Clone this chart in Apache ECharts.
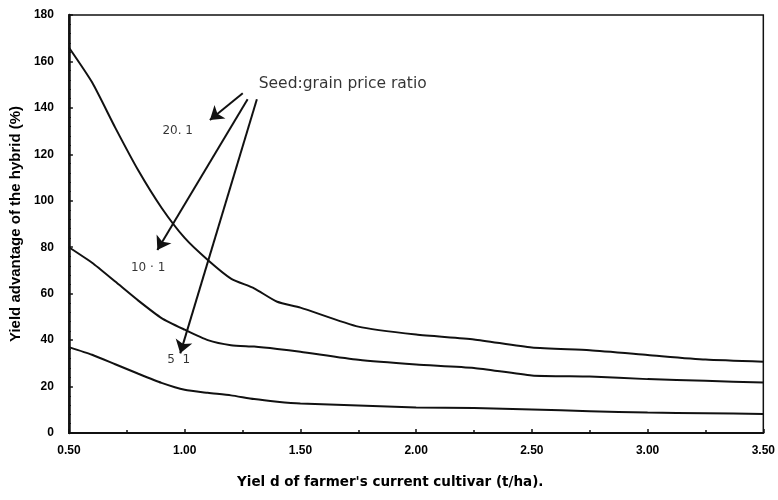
<!DOCTYPE html>
<html><head><meta charset="utf-8">
<script src="https://cdn.jsdelivr.net/npm/echarts@6/dist/echarts.min.js"></script>
<style>html,body{margin:0;padding:0;background:#fff}#c{width:778px;height:500px}</style>
</head><body><div id="c"></div>
<script>
var xValues = [0.5, 0.6, 0.7, 0.8, 0.9, 1.0, 1.1, 1.2, 1.3, 1.4, 1.5, 1.75, 2.0, 2.25, 2.5, 2.75, 3.0, 3.25, 3.5];
var ratio20 = [166, 151, 131.5, 113, 97, 84, 74.5, 66.5, 62.3, 56.5, 54, 45.8, 42.4, 40.3, 36.8, 35.6, 33.6, 31.6, 30.7];
var ratio10 = [80, 73.3, 65.2, 57, 49.5, 44.5, 40, 37.8, 37.2, 36.2, 35, 31.5, 29.5, 28, 24.8, 24.3, 23.2, 22.5, 21.7];
var ratio5  = [37, 33.7, 29.6, 25.5, 21.6, 18.6, 17.3, 16.2, 14.6, 13.5, 12.7, 11.8, 11, 10.8, 10.1, 9.4, 8.8, 8.5, 8.2];
var yTicks = {min: 0, max: 180, interval: 20};
var xTicks = {min: 0.5, max: 3.5, interval: 0.5};
var legendTitle = 'Seed:grain price ratio';
var curveLabels = ['20. 1', '10 \u00b7 1', '5  1'];
var titlePos = [1.32, 150.5];
var curveLabelPos = [[0.904, 130], [0.768, 71], [0.925, 31.5]];
var arrows = [
  [[1.251, 146.3], [1.109, 134.8]],
  [[1.272, 143.7], [0.882, 78.8]],
  [[1.312, 143.7], [0.981, 34.3]]
];

function pairs(ys) { return xValues.map(function (x, i) { return [x, ys[i]]; }); }

var chart = echarts.init(document.getElementById('c'));
var lineStyle = {color: '#111', width: 2};
var fontFam = '"Liberation Sans", Arial, sans-serif';
var option = {
  animation: false,
  backgroundColor: '#fff',
  grid: {left: 65, right: 7, top: 15, bottom: 67, show: true, borderColor: '#111', borderWidth: 1.5, backgroundColor: 'transparent'},
  xAxis: {
    type: 'value', min: xTicks.min, max: xTicks.max, interval: xTicks.interval,
    axisLine: {lineStyle: {color: '#111', width: 2}},
    axisTick: {inside: true, length: 4, lineStyle: {color: '#111', width: 1.5}},
    minorTick: {show: true, splitNumber: 2, length: 3, lineStyle: {color: '#111', width: 1.5}},
    splitLine: {show: false},
    axisLabel: {margin: 12, color: '#000', fontFamily: fontFam, fontWeight: 'bold', fontSize: 12,
      formatter: function (v) { return v.toFixed(2); }}
  },
  yAxis: {
    type: 'value', min: yTicks.min, max: yTicks.max, interval: yTicks.interval,
    name: 'Yield advantage of the hybrid (%)', nameLocation: 'middle', nameGap: 45,
    nameTextStyle: {color: '#000', fontFamily: fontFam, fontWeight: 'bold', fontSize: 15},
    axisLine: {lineStyle: {color: '#111', width: 2.5}},
    axisTick: {inside: true, length: 4, lineStyle: {color: '#111', width: 1.5}},
    minorTick: {show: true, splitNumber: 5, length: 2, lineStyle: {color: '#111', width: 1}},
    splitLine: {show: false},
    axisLabel: {margin: 15, color: '#000', fontFamily: fontFam, fontWeight: 'bold', fontSize: 12}
  },
  series: [
    {name: '20:1', type: 'line', data: pairs(ratio20), symbol: 'none', smooth: 0.2, lineStyle: lineStyle},
    {name: '10:1', type: 'line', data: pairs(ratio10), symbol: 'none', smooth: 0.2, lineStyle: lineStyle},
    {name: '5:1', type: 'line', data: pairs(ratio5), symbol: 'none', smooth: 0.2, lineStyle: lineStyle,
      markLine: {
        silent: true, symbol: ['none', 'arrow'], symbolSize: 13,
        label: {show: false},
        lineStyle: {color: '#111', width: 2, type: 'solid'},
        data: arrows.map(function (a) { return [{coord: a[0]}, {coord: a[1]}]; })
      }
    },
    {
      type: 'scatter', symbolSize: 0, silent: true,
      data: [titlePos].concat(curveLabelPos).map(function (p, i) {
        return {value: p, label: {
          show: true, position: 'right', distance: 0, color: '#000',
          fontFamily: '"DejaVu Sans", sans-serif',
          fontSize: i === 0 ? 15.5 : 12,
          formatter: i === 0 ? legendTitle : curveLabels[i - 1]
        }};
      })
    }
  ],
  graphic: [{
    type: 'text', left: 237, top: 475,
    style: {text: "Yiel d of farmer's current cultivar (t/ha).", fill: '#000', font: 'bold 13.5px "DejaVu Sans", sans-serif'}
  }]
};
chart.setOption(option);
</script>
</body></html>
